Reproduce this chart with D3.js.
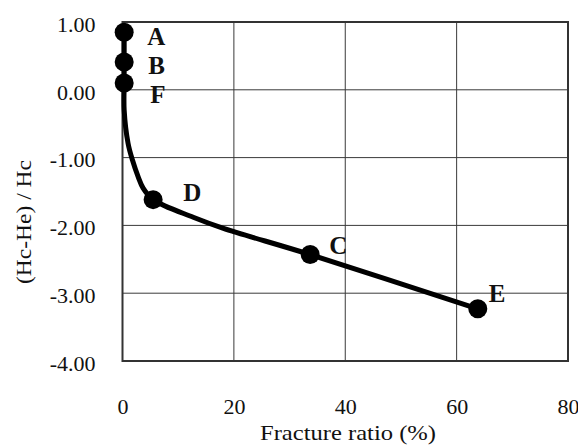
<!DOCTYPE html>
<html>
<head>
<meta charset="utf-8">
<script src="https://cdn.jsdelivr.net/npm/d3@7"></script>
<style>
  html, body { margin: 0; padding: 0; background: #fff; }
  svg text { font-family: "Liberation Serif", "Times New Roman", serif; fill: #111; }
</style>
</head>
<body>
<svg id="chart" width="578" height="446"></svg>
<script>
// Measured specimens: fracture ratio (%) vs (Hc-He)/Hc
const sampleNames = ["A", "B", "F", "D", "C", "E"];
const sampleFracture = [0.3, 0.3, 0.3, 5.5, 33.7, 63.8];
const sampleRatio = [0.85, 0.41, 0.10, -1.62, -2.43, -3.23];

// Smoothed trend through the specimens
const trendFracture = [0.3, 0.3, 0.3, 0.3, 1.0, 1.8, 2.8, 3.7, 5.5, 12.7, 18.0, 33.7, 63.8];
const trendRatio = [0.85, 0.41, 0.10, -0.30, -0.79, -1.04, -1.28, -1.45, -1.62, -1.88, -2.04, -2.43, -3.23];

const xTicks = [0, 20, 40, 60, 80];
const yTicks = [1, 0, -1, -2, -3, -4];

// Label nudges (px) from each specimen marker
const labelDx = [23, 24, 26, 30, 19, 11];
const labelDy = [13, 12, 20, 1, -1, -7];

const svg = d3.select("#chart");
const plot = { left: 122.5, right: 568, top: 22, bottom: 361 };

const x = d3.scaleLinear().domain([0, 80]).range([plot.left, plot.right]);
const y = d3.scaleLinear().domain([-4, 1]).range([plot.bottom, plot.top]);

// Grid lines
const grid = svg.append("g");
grid.selectAll(".vg").data(xTicks.slice(1, -1)).join("line")
  .attr("x1", d => x(d)).attr("x2", d => x(d))
  .attr("y1", plot.top).attr("y2", plot.bottom)
  .attr("stroke", "#3a3a3a").attr("stroke-width", 1);
grid.selectAll(".hg").data(yTicks.slice(1, -1)).join("line")
  .attr("x1", plot.left).attr("x2", plot.right)
  .attr("y1", d => y(d)).attr("y2", d => y(d))
  .attr("stroke", "#3a3a3a").attr("stroke-width", 1);

// Axes (labels only, no tick marks); plain hyphen for negatives
const fmtY = v => d3.format(".2f")(v).replace("\u2212", "-");

const xAxis = svg.append("g")
  .attr("transform", `translate(0,${plot.bottom})`)
  .call(d3.axisBottom(x).tickValues(xTicks).tickSize(0).tickPadding(0).tickFormat(d3.format("d")));
xAxis.select(".domain").remove();
xAxis.selectAll("text").attr("dy", 0).attr("y", 53)
  .style("font-size", "22px").style("font-family", "Liberation Serif, serif").attr("fill", "#111");

const yAxis = svg.append("g")
  .attr("transform", `translate(${plot.left},0)`)
  .call(d3.axisLeft(y).tickValues(yTicks).tickSize(0).tickPadding(0).tickFormat(fmtY));
yAxis.select(".domain").remove();
yAxis.selectAll("text").attr("x", -27).attr("dy", "0.42em")
  .style("font-size", "22px").style("font-family", "Liberation Serif, serif").attr("fill", "#111");

// Plot frame
svg.append("rect")
  .attr("x", plot.left).attr("y", plot.top)
  .attr("width", plot.right - plot.left).attr("height", plot.bottom - plot.top)
  .attr("fill", "none").attr("stroke", "#333").attr("stroke-width", 2);

// Trend curve
const trend = trendFracture.map((f, i) => [f, trendRatio[i]]);
svg.append("path")
  .datum(trend)
  .attr("fill", "none").attr("stroke", "#000").attr("stroke-width", 5)
  .attr("stroke-linejoin", "round").attr("stroke-linecap", "round")
  .attr("d", d3.line().x(d => x(d[0])).y(d => y(d[1])).curve(d3.curveCatmullRom.alpha(0.5)));

// Specimen markers and labels
const samples = sampleNames.map((n, i) => ({ n, f: sampleFracture[i], r: sampleRatio[i], dx: labelDx[i], dy: labelDy[i] }));
svg.selectAll(".pt").data(samples).join("circle")
  .attr("cx", d => x(d.f)).attr("cy", d => y(d.r)).attr("r", 9.5).attr("fill", "#000");
svg.selectAll(".lbl").data(samples).join("text")
  .attr("x", d => x(d.f) + d.dx).attr("y", d => y(d.r) + d.dy)
  .style("font-size", "25px").style("font-weight", "bold")
  .text(d => d.n);

// Axis titles
svg.append("text")
  .attr("x", 348).attr("y", 440)
  .attr("text-anchor", "middle")
  .attr("textLength", 176).attr("lengthAdjust", "spacingAndGlyphs")
  .style("font-size", "22px")
  .text("Fracture ratio (%)");

svg.append("text")
  .attr("transform", "translate(31,222) rotate(-90)")
  .attr("text-anchor", "middle")
  .attr("textLength", 124).attr("lengthAdjust", "spacingAndGlyphs")
  .style("font-size", "22px")
  .text("(Hc-He) / Hc");
</script>
</body>
</html>
